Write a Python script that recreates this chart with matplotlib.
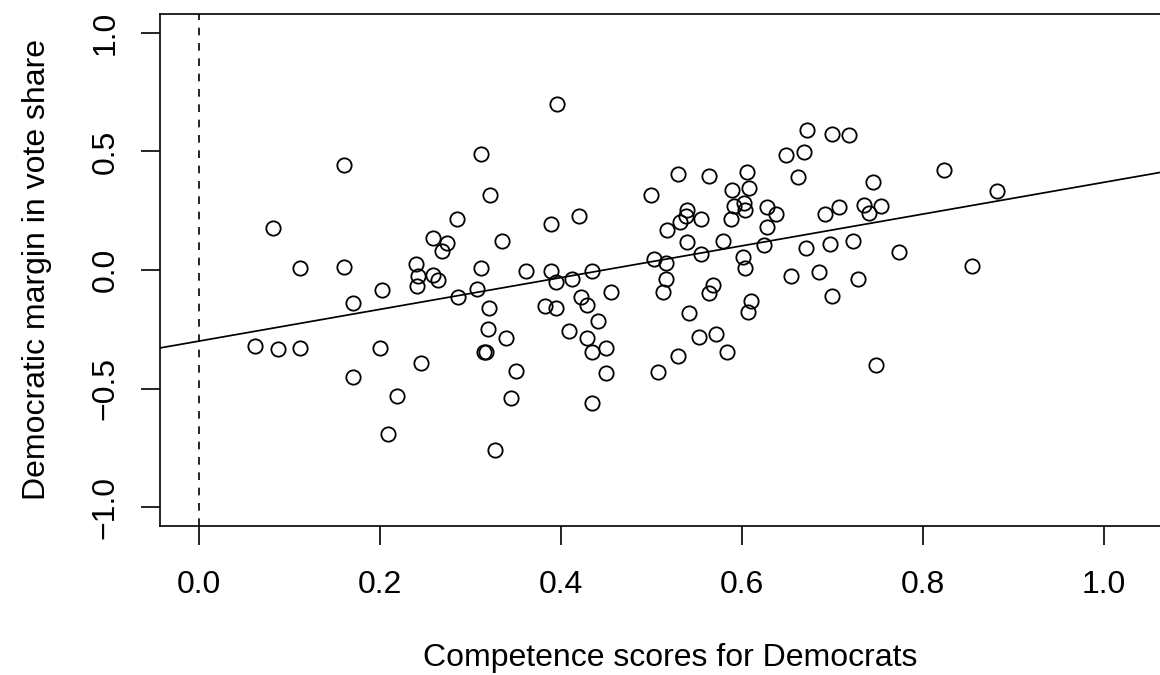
import matplotlib
matplotlib.use("Agg")
import matplotlib.pyplot as plt

plt.rcParams['font.family'] = ['Liberation Sans', 'DejaVu Sans']

# competence scores (x) and democratic margin (y)
competence = [
    0.062, 0.082, 0.087, 0.112, 0.112, 0.160, 0.160, 0.170, 0.170, 0.200,
    0.202, 0.209, 0.219, 0.240, 0.242, 0.241, 0.245, 0.259, 0.259, 0.264,
    0.269, 0.274, 0.285, 0.286, 0.307, 0.312, 0.312, 0.315, 0.317, 0.319,
    0.320, 0.322, 0.327, 0.335, 0.339, 0.345, 0.350, 0.361, 0.382, 0.389,
    0.389, 0.394, 0.394, 0.396, 0.409, 0.412, 0.420, 0.422, 0.429, 0.429,
    0.434, 0.434, 0.434, 0.441, 0.450, 0.450, 0.455,
    0.499, 0.503, 0.507, 0.513, 0.516, 0.516, 0.517, 0.529, 0.529, 0.531,
    0.538, 0.539, 0.539, 0.541, 0.552, 0.555, 0.555, 0.564, 0.564, 0.568,
    0.571, 0.579, 0.583, 0.588, 0.589, 0.591, 0.601, 0.602, 0.603, 0.603,
    0.606, 0.607, 0.608, 0.610, 0.624, 0.628, 0.628, 0.638, 0.649, 0.654,
    0.662, 0.669, 0.671, 0.672, 0.685, 0.692, 0.697, 0.699, 0.699, 0.707,
    0.718, 0.723, 0.728, 0.735, 0.740, 0.745, 0.748, 0.754, 0.773, 0.823,
    0.854, 0.882,
]
margin = [
    -0.320, 0.177, -0.333, 0.008, -0.329, 0.443, 0.013, -0.139, -0.451, -0.329,
    -0.084, -0.692, -0.532, 0.025, -0.025, -0.067, -0.392, 0.135, -0.021, -0.042,
    0.080, 0.114, 0.215, -0.116, -0.080, 0.489, 0.008, -0.346, -0.348, -0.249,
    -0.160, 0.316, -0.759, 0.122, -0.287, -0.540, -0.426, -0.004, -0.152, 0.194,
    -0.004, -0.050, -0.160, 0.700, -0.257, -0.040, 0.228, -0.114, -0.148, -0.287,
    -0.004, -0.346, -0.561, -0.215, -0.329, -0.435, -0.093,
    0.316, 0.046, -0.430, -0.093, 0.029, -0.038, 0.167, 0.405, -0.363, 0.203,
    0.228, 0.253, 0.118, -0.181, -0.283, 0.215, 0.068, 0.397, -0.097, -0.063,
    -0.270, 0.122, -0.346, 0.215, 0.338, 0.270, 0.055, 0.283, 0.253, 0.008,
    0.414, -0.177, 0.346, -0.131, 0.105, 0.266, 0.181, 0.236, 0.485, -0.025,
    0.392, 0.498, 0.093, 0.591, -0.008, 0.236, 0.110, 0.574, -0.110, 0.266,
    0.570, 0.122, -0.038, 0.274, 0.241, 0.371, -0.401, 0.270, 0.076, 0.422,
    0.017, 0.333,
]

# fitted line
intercept = -0.30
slope = 0.67

x_ticks = [0.0, 0.2, 0.4, 0.6, 0.8, 1.0]
y_ticks = [-1.0, -0.5, 0.0, 0.5, 1.0]

fig = plt.figure(figsize=(11.6, 6.75), dpi=100)
# plot region runs a bit past the right edge of the picture
ax = fig.add_axes([160 / 1160, 1 - 526 / 675, 1020 / 1160, 512 / 675])

ax.plot(competence, margin, linestyle='none', marker='o', markersize=10.3,
        markerfacecolor='none', markeredgecolor='black', markeredgewidth=1.3)
ax.axline((0, intercept), slope=slope, color='black', linewidth=1.25)
ax.axvline(0, color='black', linewidth=1.2, linestyle=(0, (4.6, 4.6)))

ax.set_xlim(-0.043, 1.084)
ax.set_ylim(-1.08, 1.08)

ax.set_xticks(x_ticks)
ax.set_xticklabels([f"{v:.1f}" for v in x_ticks])
ax.set_yticks(y_ticks)
ax.set_yticklabels([f"{v:.1f}".replace("-", "\u2212") for v in y_ticks],
                   rotation=90, va='center')

ax.tick_params(axis='both', direction='out', length=13.5, width=1.2,
               labelsize=23, color='black')
ax.tick_params(axis='x', pad=18.5)
ax.tick_params(axis='y', pad=15)
for s in ax.spines.values():
    s.set_linewidth(1.2)

ax.set_xlabel("Competence scores for Democrats", fontsize=23)
ax.set_ylabel("Democratic margin in vote share", fontsize=23)
ax.xaxis.set_label_coords(0.5, -0.2285)
ax.yaxis.set_label_coords(-0.106, 0.5)

fig.savefig("out.png", dpi=100)
